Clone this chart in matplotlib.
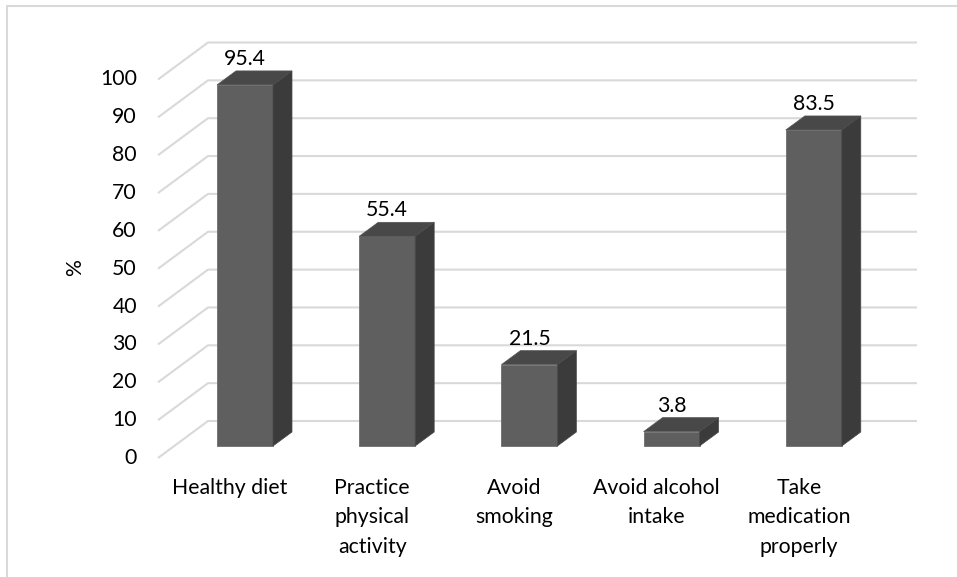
import matplotlib.pyplot as plt
from matplotlib.patches import Polygon

categories = ['Healthy diet', 'Practice\nphysical\nactivity', 'Avoid\nsmoking',
              'Avoid alcohol\nintake', 'Take\nmedication\nproperly']
values = [95.4, 55.4, 21.5, 3.8, 83.5]
yticks = [0, 10, 20, 30, 40, 50, 60, 70, 80, 90, 100]

plt.rcParams['font.family'] = ['Lato', 'DejaVu Sans']

W, H = 957, 577
fig = plt.figure(figsize=(W / 100, H / 100), dpi=100)
ax = fig.add_axes([0, 0, 1, 1])
ax.axis('off')

# pixel scale of the chart
px_x = 142.2   # px per category
px_y = 3.785   # px per percent
x0_px = 245    # centre of first bar
y0_px = 446    # bar base, px from top
ax.set_xlim(-x0_px / px_x, (W - x0_px) / px_x)
ax.set_ylim(-(H - y0_px) / px_y, y0_px / px_y)

def dx(p):
    return p / px_x

def dy(p):
    return p / px_y

grid_c = '#d9d9d9'
front_c = '#5f5f5f'
top_c = '#484848'
side_c = '#3b3b3b'
fs = 15.3

# back wall gridlines + floor/wall diagonals
xf = dx(158 - x0_px)
xb = dx(208 - x0_px)
xe = dx(917 - x0_px)
for v in yticks:
    yf = v - dy(12)
    yb = v + dy(25)
    ax.plot([xf, xb, xe], [yf, yb, yb], color=grid_c, lw=1.5, zorder=1,
            solid_capstyle='butt')
    ax.text(dx(137 - x0_px), yf, str(v), ha='right', va='center', fontsize=fs,
            color='#000000')

# bars
bw = dx(56)
ox, oy = dx(19), dy(14)
xs = list(range(len(values)))
ax.bar(xs, values, width=bw, color=front_c, edgecolor='#6e6e6e', linewidth=0.6,
       zorder=3)
for x, v in zip(xs, values):
    l, r = x - bw / 2, x + bw / 2
    ax.add_patch(Polygon([(l, v), (r, v), (r + ox, v + oy), (l + ox, v + oy)],
                         closed=True, facecolor=top_c, edgecolor='#555555',
                         linewidth=0.5, zorder=3))
    ax.add_patch(Polygon([(r, 0), (r + ox, oy), (r + ox, v + oy), (r, v)],
                         closed=True, facecolor=side_c, edgecolor='#4a4a4a',
                         linewidth=0.5, zorder=3))
    ax.text(x, v + dy(26), '{:.1f}'.format(v), ha='center', va='center',
            fontsize=fs, color='#000000', zorder=4)

# category labels
for x, lab in zip(xs, categories):
    ax.text(x - dx(15), -dy(32), lab, ha='center', va='top', fontsize=fs,
            linespacing=1.58, color='#000000')

ax.text(dx(75 - x0_px), dy(446 - 268), '%', ha='center', va='center',
        rotation=90, fontsize=fs, color='#000000')

# chart frame (left and top edges)
ax.plot([7 / W, 7 / W, 1], [0, 1 - 6 / H, 1 - 6 / H], transform=ax.transAxes,
        color=grid_c, lw=1.5, clip_on=False)

fig.savefig('out.png', dpi=100)
